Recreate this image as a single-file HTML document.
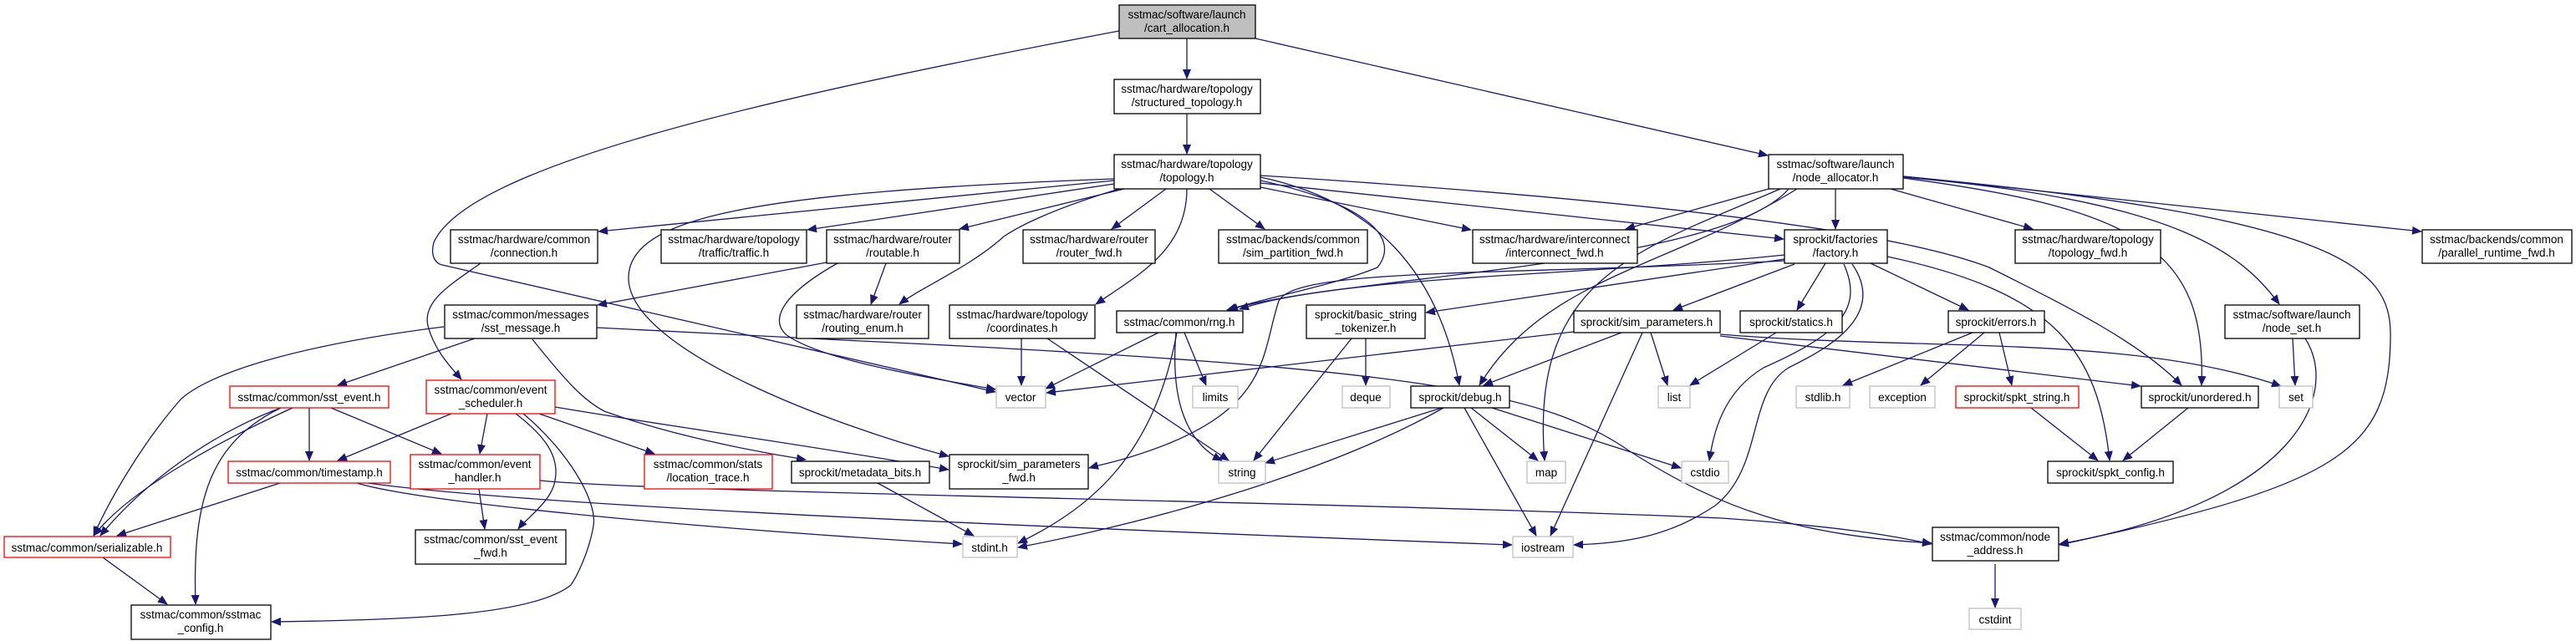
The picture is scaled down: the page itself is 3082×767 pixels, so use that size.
<!DOCTYPE html>
<html><head><meta charset="utf-8"><style>
html,body{margin:0;padding:0;background:#fff;}
svg{display:block;}
text{font-family:"Liberation Sans",Arial,sans-serif;font-size:13.5px;fill:#000;text-anchor:middle;}
.e{fill:none;stroke:#191970;stroke-width:1.3;marker-end:url(#a);}
.n{fill:#fff;stroke:#000;stroke-width:1.3;}
.g{fill:#fff;stroke:#bfbfbf;stroke-width:1.3;}
.r{fill:#fff;stroke:#ff0000;stroke-width:1.3;}
</style></head><body>
<svg width="3082" height="767" viewBox="0 0 3082 767" xmlns="http://www.w3.org/2000/svg">
<defs><marker id="a" markerWidth="12" markerHeight="10" refX="11" refY="5" orient="auto" markerUnits="userSpaceOnUse"><path d="M0,0 L12,5 L0,10 z" fill="#191970"/></marker></defs>
<g>
<path class="e" d="M1420,46 L1420,94"/>
<path class="e" d="M1420,136 L1420,184"/>
<path class="e" d="M1502,46 L2115,186"/>
<path class="e" d="M1339,37 C900,120 560,200 519,290 C515,305 520,315 529,317 L1191,469"/>
<path class="e" d="M1333,216 L716,277"/>
<path class="e" d="M1333,220 L966,275"/>
<path class="e" d="M1345,226 L1148,274"/>
<path class="e" d="M1395,226 L1330,274"/>
<path class="e" d="M1447,226 L1513,274"/>
<path class="e" d="M1508,224 L1760,275"/>
<path class="e" d="M1339,226 C1260,250 1220,270 1201,283 C1160,320 1100,345 1076,364"/>
<path class="e" d="M1420,226 C1420,300 1360,330 1311,364"/>
<path class="e" d="M1508,216 C1620,240 1680,280 1648,320 C1600,340 1520,355 1468,371"/>
<path class="e" d="M1508,212 C1640,240 1720,320 1746,461"/>
<path class="e" d="M1508,210 C1900,235 2250,270 2380,320 C2480,370 2560,410 2610,461"/>
<path class="e" d="M1333,214 C900,230 750,260 752,334 C755,420 1000,510 1135,546"/>
<path class="e" d="M1508,219 L2134,286"/>
<path class="e" d="M575,315 C540,340 505,360 512,390 C520,420 540,440 552,454"/>
<path class="e" d="M989,314 L715,365"/>
<path class="e" d="M1060,315 L1042,364"/>
<path class="e" d="M1002,315 C940,350 920,380 940,400 C980,430 1100,450 1191,466"/>
<path class="e" d="M568,405 L404,461"/>
<path class="e" d="M531,391 C380,410 260,440 217,477 C170,530 130,600 112,641"/>
<path class="e" d="M637,406 C680,460 700,480 723,492 C800,520 900,540 964,550"/>
<path class="e" d="M714,392 L1030,408 C1700,440 1850,470 1950,540 C2060,610 2150,640 2311,650"/>
<path class="e" d="M370,488 L370,551"/>
<path class="e" d="M396,488 L528,543"/>
<path class="e" d="M336,488 C250,520 170,580 120,641"/>
<path class="e" d="M350,488 C280,520 160,580 112,641"/>
<path class="e" d="M336,488 C250,530 230,600 234,723"/>
<path class="e" d="M540,495 L404,551"/>
<path class="e" d="M583,495 L574,543"/>
<path class="e" d="M645,495 L783,543"/>
<path class="e" d="M617,495 C650,520 670,545 664,575 C660,600 630,620 620,633"/>
<path class="e" d="M626,495 C680,540 715,600 710,629 C705,660 690,690 683,700 C640,735 500,742 325,744"/>
<path class="e" d="M664,487 C800,510 950,530 1135,562"/>
<path class="e" d="M335,578 L140,641"/>
<path class="e" d="M427,578 C500,600 800,630 1151,651"/>
<path class="e" d="M440,578 C600,600 1000,622 1809,652"/>
<path class="e" d="M646,575 C800,590 1600,600 2060,620 C2200,630 2260,640 2311,651"/>
<path class="e" d="M573,585 L580,633"/>
<path class="e" d="M123,667 L200,723"/>
<path class="e" d="M1050,578 L1165,641"/>
<path class="e" d="M1222,405 L1222,461"/>
<path class="e" d="M1253,405 L1470,551"/>
<path class="e" d="M1386,398 L1251,465"/>
<path class="e" d="M1417,398 L1443,461"/>
<path class="e" d="M1407,398 C1400,480 1420,530 1462,551"/>
<path class="e" d="M1408,398 C1380,550 1300,610 1218,650"/>
<path class="e" d="M1634,405 L1634,461"/>
<path class="e" d="M1617,405 L1500,551"/>
<path class="e" d="M1883,397 L1252,470"/>
<path class="e" d="M1940,398 L1775,461"/>
<path class="e" d="M1975,398 L1995,461"/>
<path class="e" d="M1965,398 L1855,641"/>
<path class="e" d="M2058,402 L2561,462"/>
<path class="e" d="M2058,400 C2300,420 2550,400 2729,462"/>
<path class="e" d="M1725,488 L1514,554"/>
<path class="e" d="M1727,488 C1600,560 1400,620 1218,655"/>
<path class="e" d="M1760,488 L1840,551"/>
<path class="e" d="M1785,488 L2011,560"/>
<path class="e" d="M1752,488 L1838,641"/>
<path class="e" d="M2125,398 L2022,461"/>
<path class="e" d="M2360,398 L2205,461"/>
<path class="e" d="M2374,398 L2298,461"/>
<path class="e" d="M2392,398 L2407,461"/>
<path class="e" d="M2430,488 L2510,551"/>
<path class="e" d="M2618,488 L2540,551"/>
<path class="e" d="M2743,405 L2746,461"/>
<path class="e" d="M2758,405 C2800,470 2750,600 2464,651"/>
<path class="e" d="M2387,675 L2387,727"/>
<path class="e" d="M2184,315 L2150,371"/>
<path class="e" d="M2238,315 L2355,371"/>
<path class="e" d="M2258,307 C2460,350 2510,420 2524,551"/>
<path class="e" d="M2206,316 C2230,370 2200,400 2110,440 C2060,470 2050,520 2045,551"/>
<path class="e" d="M2216,316 C2260,380 2180,420 2140,440 C2090,470 2110,560 2052,605 C2000,640 1950,650 1883,652"/>
<path class="e" d="M2147,316 L2002,371"/>
<path class="e" d="M2135,310 L1706,374"/>
<path class="e" d="M2135,305 C1900,330 1600,330 1483,370"/>
<path class="e" d="M2135,312 C1800,330 1550,320 1530,360 C1510,420 1520,480 1400,530 C1350,550 1320,555 1303,560"/>
<path class="e" d="M2196,226 L2196,274"/>
<path class="e" d="M2262,226 L2432,274"/>
<path class="e" d="M2277,211 L2897,277"/>
<path class="e" d="M2277,212 C2600,240 2680,300 2727,364"/>
<path class="e" d="M2277,213 C2560,250 2640,300 2634,461"/>
<path class="e" d="M2277,211 C2800,260 2860,320 2860,400 C2860,540 2800,580 2464,652"/>
<path class="e" d="M2116,226 L1945,274"/>
<path class="e" d="M2150,226 C2000,320 1850,330 1770,461"/>
<path class="e" d="M2130,226 C1960,300 1830,330 1848,551"/>
<path class="e" d="M2140,226 C2060,320 1600,330 1470,371"/>
</g>
<g>
<rect x="1339" y="6" width="163" height="40" fill="#bfbfbf" stroke="#000" stroke-width="1.3"/><text x="1420" y="22">sstmac/software/launch</text><text x="1420" y="38">/cart_allocation.h</text>
<rect class="n" x="1333" y="95" width="175" height="41"/><text x="1420" y="111">sstmac/hardware/topology</text><text x="1420" y="127">/structured_topology.h</text>
<rect class="n" x="1333" y="185" width="175" height="41"/><text x="1420" y="201">sstmac/hardware/topology</text><text x="1420" y="217">/topology.h</text>
<rect class="n" x="2116" y="185" width="161" height="41"/><text x="2196" y="201">sstmac/software/launch</text><text x="2196" y="217">/node_allocator.h</text>
<rect class="n" x="539" y="275" width="176" height="40"/><text x="627" y="291">sstmac/hardware/common</text><text x="627" y="307">/connection.h</text>
<rect class="n" x="791" y="275" width="174" height="40"/><text x="878" y="291">sstmac/hardware/topology</text><text x="878" y="307">/traffic/traffic.h</text>
<rect class="n" x="989" y="275" width="159" height="40"/><text x="1068" y="291">sstmac/hardware/router</text><text x="1068" y="307">/routable.h</text>
<rect class="n" x="1224" y="275" width="158" height="40"/><text x="1303" y="291">sstmac/hardware/router</text><text x="1303" y="307">/router_fwd.h</text>
<rect class="n" x="1458" y="275" width="178" height="40"/><text x="1547" y="291">sstmac/backends/common</text><text x="1547" y="307">/sim_partition_fwd.h</text>
<rect class="n" x="1762" y="275" width="197" height="40"/><text x="1860" y="291">sstmac/hardware/interconnect</text><text x="1860" y="307">/interconnect_fwd.h</text>
<rect class="n" x="2135" y="275" width="123" height="40"/><text x="2196" y="291">sprockit/factories</text><text x="2196" y="307">/factory.h</text>
<rect class="n" x="2411" y="275" width="174" height="40"/><text x="2498" y="291">sstmac/hardware/topology</text><text x="2498" y="307">/topology_fwd.h</text>
<rect class="n" x="2898" y="275" width="179" height="40"/><text x="2987" y="291">sstmac/backends/common</text><text x="2987" y="307">/parallel_runtime_fwd.h</text>
<rect class="n" x="532" y="365" width="182" height="40"/><text x="623" y="381">sstmac/common/messages</text><text x="623" y="397">/sst_message.h</text>
<rect class="n" x="953" y="365" width="158" height="40"/><text x="1032" y="381">sstmac/hardware/router</text><text x="1032" y="397">/routing_enum.h</text>
<rect class="n" x="1136" y="365" width="174" height="40"/><text x="1223" y="381">sstmac/hardware/topology</text><text x="1223" y="397">/coordinates.h</text>
<rect class="n" x="1336" y="372" width="151" height="26"/><text x="1411" y="390">sstmac/common/rng.h</text>
<rect class="n" x="1563" y="365" width="142" height="40"/><text x="1634" y="381">sprockit/basic_string</text><text x="1634" y="397">_tokenizer.h</text>
<rect class="n" x="1883" y="372" width="175" height="26"/><text x="1970" y="390">sprockit/sim_parameters.h</text>
<rect class="n" x="2082" y="372" width="122" height="26"/><text x="2143" y="390">sprockit/statics.h</text>
<rect class="n" x="2331" y="372" width="115" height="26"/><text x="2388" y="390">sprockit/errors.h</text>
<rect class="n" x="2662" y="365" width="161" height="40"/><text x="2742" y="381">sstmac/software/launch</text><text x="2742" y="397">/node_set.h</text>
<rect class="r" x="275" y="462" width="190" height="26"/><text x="370" y="480">sstmac/common/sst_event.h</text>
<rect class="r" x="510" y="455" width="154" height="40"/><text x="587" y="471">sstmac/common/event</text><text x="587" y="487">_scheduler.h</text>
<rect class="g" x="1192" y="462" width="59" height="26"/><text x="1221" y="480">vector</text>
<rect class="g" x="1427" y="462" width="54" height="26"/><text x="1454" y="480">limits</text>
<rect class="g" x="1606" y="462" width="57" height="26"/><text x="1634" y="480">deque</text>
<rect class="n" x="1688" y="462" width="118" height="26"/><text x="1747" y="480">sprockit/debug.h</text>
<rect class="g" x="1984" y="462" width="38" height="26"/><text x="2003" y="480">list</text>
<rect class="g" x="2149" y="462" width="64" height="26"/><text x="2181" y="480">stdlib.h</text>
<rect class="g" x="2237" y="462" width="78" height="26"/><text x="2276" y="480">exception</text>
<rect class="r" x="2340" y="462" width="147" height="26"/><text x="2413" y="480">sprockit/spkt_string.h</text>
<rect class="n" x="2562" y="462" width="140" height="26"/><text x="2632" y="480">sprockit/unordered.h</text>
<rect class="g" x="2727" y="462" width="40" height="26"/><text x="2747" y="480">set</text>
<rect class="r" x="273" y="552" width="194" height="26"/><text x="370" y="570">sstmac/common/timestamp.h</text>
<rect class="r" x="491" y="544" width="155" height="41"/><text x="568" y="560">sstmac/common/event</text><text x="568" y="576">_handler.h</text>
<rect class="r" x="771" y="544" width="153" height="41"/><text x="847" y="560">sstmac/common/stats</text><text x="847" y="576">/location_trace.h</text>
<rect class="n" x="947" y="552" width="165" height="26"/><text x="1029" y="570">sprockit/metadata_bits.h</text>
<rect class="n" x="1136" y="544" width="166" height="41"/><text x="1219" y="560">sprockit/sim_parameters</text><text x="1219" y="576">_fwd.h</text>
<rect class="g" x="1458" y="552" width="56" height="26"/><text x="1486" y="570">string</text>
<rect class="g" x="1827" y="552" width="46" height="26"/><text x="1850" y="570">map</text>
<rect class="g" x="2012" y="552" width="56" height="26"/><text x="2040" y="570">cstdio</text>
<rect class="n" x="2450" y="552" width="150" height="26"/><text x="2525" y="570">sprockit/spkt_config.h</text>
<rect class="r" x="5" y="642" width="199" height="25"/><text x="104" y="660">sstmac/common/serializable.h</text>
<rect class="n" x="497" y="634" width="180" height="41"/><text x="587" y="650">sstmac/common/sst_event</text><text x="587" y="666">_fwd.h</text>
<rect class="g" x="1152" y="642" width="65" height="25"/><text x="1184" y="660">stdint.h</text>
<rect class="g" x="1810" y="642" width="72" height="25"/><text x="1846" y="660">iostream</text>
<rect class="n" x="2312" y="631" width="151" height="40"/><text x="2387" y="647">sstmac/common/node</text><text x="2387" y="663">_address.h</text>
<rect class="n" x="157" y="724" width="167" height="41"/><text x="240" y="740">sstmac/common/sstmac</text><text x="240" y="756">_config.h</text>
<rect class="g" x="2356" y="728" width="62" height="25"/><text x="2387" y="746">cstdint</text>
</g>
</svg>
</body></html>
